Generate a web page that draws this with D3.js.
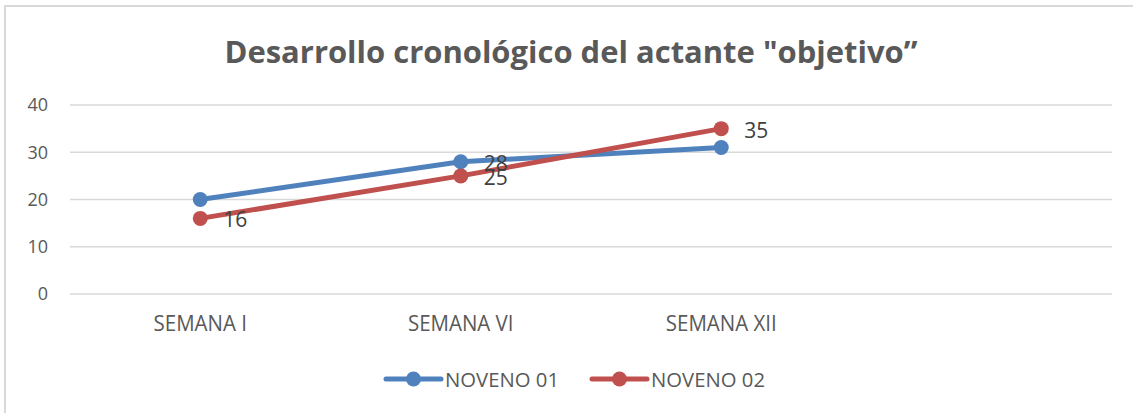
<!DOCTYPE html>
<html>
<head>
<meta charset="utf-8">
<script src="https://cdn.jsdelivr.net/npm/d3@7"></script>
<style>
  body { margin: 0; background: #fff; }
  svg { display: block; font-family: "Open Sans", "Noto Sans", sans-serif; }
</style>
</head>
<body>
<svg id="chart" width="1133" height="413"></svg>
<script>
// datos
var categorias = ["SEMANA I", "SEMANA VI", "SEMANA XII", ""];
var noveno01 = [20, 28, 31];
var noveno02 = [16, 25, 35];
var etiquetas01 = [false, true, false]; // solo se ve la etiqueta del 28
var etiquetas02 = [true, true, true];
var ticksY = [0, 10, 20, 30, 40];
var nombresSeries = ["NOVENO 01", "NOVENO 02"];
var colores = ["#4f81bd", "#c0504d"];

var svg = d3.select("#chart");
var width = +svg.attr("width");
var height = +svg.attr("height");

// marco del grafico
svg.append("rect")
  .attr("x", 5).attr("y", 6)
  .attr("width", width + 10).attr("height", height + 10)
  .attr("fill", "#fff")
  .attr("stroke", "#d9d9d9")
  .attr("stroke-width", 2);

// titulo
svg.append("text")
  .attr("x", 571).attr("y", 63)
  .attr("text-anchor", "middle")
  .attr("font-size", 31)
  .attr("font-weight", "bold")
  .attr("fill", "#595959")
  .attr("textLength", 693)
  .attr("lengthAdjust", "spacingAndGlyphs")
  .text("Desarrollo cronológico del actante \"objetivo\u201D");

var x = d3.scaleBand().domain(categorias).range([70, 1112]);
var y = d3.scaleLinear().domain([0, 40]).range([294, 105]);

// lineas de cuadricula
svg.append("g")
  .selectAll("line")
  .data(ticksY)
  .enter()
  .append("line")
  .attr("x1", 70).attr("x2", 1112)
  .attr("y1", function (d) { return y(d); })
  .attr("y2", function (d) { return y(d); })
  .attr("stroke", "#d9d9d9")
  .attr("stroke-width", 1.5);

// eje y
var ejeY = svg.append("g")
  .attr("transform", "translate(70,0)")
  .call(d3.axisLeft(y).tickValues(ticksY).tickSize(0).tickPadding(22));
ejeY.select(".domain").remove();
ejeY.selectAll("text")
  .attr("font-size", 18)
  .attr("fill", "#595959")
  .attr("font-family", "\"Open Sans\", sans-serif");

// eje x
var ejeX = svg.append("g")
  .attr("transform", "translate(0,294)")
  .call(d3.axisBottom(x).tickSize(0).tickPadding(21));
ejeX.select(".domain").remove();
ejeX.selectAll("text")
  .attr("font-size", 20.5)
  .attr("fill", "#595959")
  .attr("font-family", "\"Open Sans\", sans-serif")
  .attr("transform", "scale(1,1.05)");

function cx(i) {
  return x(categorias[i]) + x.bandwidth() / 2;
}

var series = [
  { nombre: nombresSeries[0], valores: noveno01, etiquetas: etiquetas01, color: colores[0] },
  { nombre: nombresSeries[1], valores: noveno02, etiquetas: etiquetas02, color: colores[1] }
];

var linea = d3.line()
  .x(function (d, i) { return cx(i); })
  .y(function (d) { return y(d); });

series.forEach(function (s) {
  var g = svg.append("g");
  g.append("path")
    .attr("d", linea(s.valores))
    .attr("fill", "none")
    .attr("stroke", s.color)
    .attr("stroke-width", 5)
    .attr("stroke-linejoin", "round")
    .attr("stroke-linecap", "round");
  g.selectAll("circle")
    .data(s.valores)
    .enter()
    .append("circle")
    .attr("cx", function (d, i) { return cx(i); })
    .attr("cy", function (d) { return y(d); })
    .attr("r", 7.5)
    .attr("fill", s.color);
});

// etiquetas de datos
series.forEach(function (s) {
  svg.append("g")
    .selectAll("text")
    .data(s.valores)
    .enter()
    .filter(function (d, i) { return s.etiquetas[i]; })
    .append("text")
    .attr("x", function (d, i) { return cx(s.valores.indexOf(d)) + 23; })
    .attr("y", function (d) { return y(d) + 9; })
    .attr("font-size", 21)
    .attr("fill", "#404040")
    .text(function (d) { return d; });
});

// leyenda
var leyenda = svg.append("g");
var posLeyenda = [386, 592];
series.forEach(function (s, i) {
  var lg = leyenda.append("g").attr("transform", "translate(" + posLeyenda[i] + ",379)");
  lg.append("line")
    .attr("x1", 0).attr("x2", 55)
    .attr("stroke", s.color)
    .attr("stroke-width", 5)
    .attr("stroke-linecap", "round");
  lg.append("circle")
    .attr("cx", 27.5).attr("r", 7.5)
    .attr("fill", s.color);
  lg.append("text")
    .attr("x", 59).attr("y", 8)
    .attr("font-size", 20)
    .attr("fill", "#595959")
    .attr("textLength", 114)
    .attr("lengthAdjust", "spacingAndGlyphs")
    .text(s.nombre);
});
</script>
</body>
</html>
